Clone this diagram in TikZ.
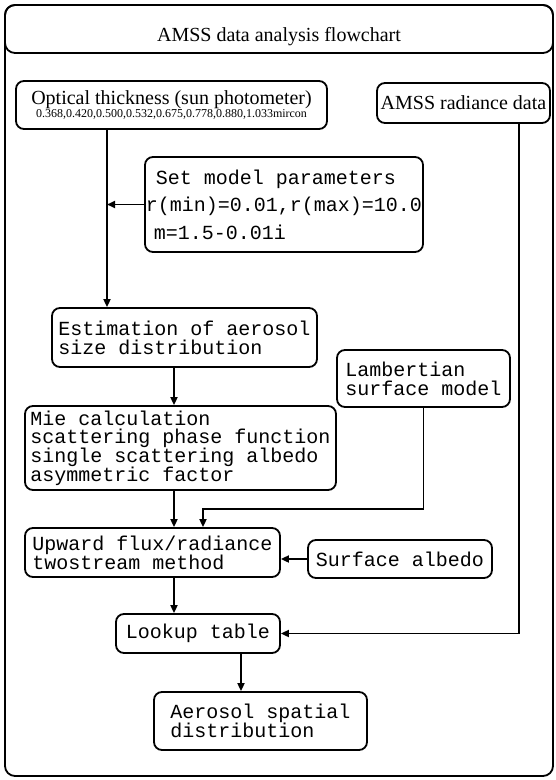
\documentclass[tikz,border=0pt]{standalone}
\usepackage{fontspec}
\setmainfont{Liberation Serif}
\setmonofont{Liberation Mono}
\usetikzlibrary{arrows.meta}

\begin{document}
\begin{tikzpicture}[x=1pt,y=-1pt,
  box/.style={draw,line width=1.8pt,rounded corners=8pt,inner sep=1pt,align=left,
    font=\ttfamily\fontsize{20}{19}\selectfont},
  arr/.style={line width=1.8pt,-{Triangle[length=8pt,width=7pt]}}]
  \useasboundingbox (0,0) rectangle (555,780);
  % frame and title bar
  \draw[line width=1.8pt,rounded corners=10pt] (5,5) rectangle (553,776);
  \draw[line width=1.8pt,rounded corners=10pt] (5,5) rectangle (553,53);
  \node (title) at (279,37) {\fontsize{20}{22}\selectfont AMSS data analysis flowchart};
  % input data
  \node[box,align=center,font=\rmfamily,minimum width=311pt,minimum height=48pt] (optical) at (171.5,105)
    {\fontsize{20}{20}\selectfont Optical thickness (sun photometer)\\
     \fontsize{12}{15.5}\selectfont 0.368,0.420,0.500,0.532,0.675,0.778,0.880,1.033mircon};
  \node[box,font=\rmfamily\fontsize{20}{22}\selectfont,minimum width=173pt,minimum height=40pt] (amss) at (463.5,103)
    {AMSS radiance data};
  \node[box,font=\ttfamily\fontsize{20}{27.5}\selectfont,minimum width=278pt,minimum height=95pt] (setmodel) at (284,204.5)
    {\hspace*{10pt}Set model parameters\\r(min)=0.01,r(max)=10.0\\\hspace*{8pt}m=1.5-0.01i};
  % processing chain
  \node[box,minimum width=265pt,minimum height=59pt] (estim) at (184.5,337.5)
    {Estimation of aerosol\\size distribution};
  \node[box,minimum width=173pt,minimum height=57pt] (lamb) at (423.5,378.5)
    {Lambertian\\surface model};
  \node[box,font=\ttfamily\fontsize{20}{18.7}\selectfont,minimum width=311pt,minimum height=84pt] (mie) at (180.5,448)
    {Mie calculation\\scattering phase function\\single scattering albedo\\asymmetric factor};
  \node[box,minimum width=255pt,minimum height=49pt] (upward) at (152.5,552.5)
    {Upward flux/radiance\\twostream method};
  \node[box,minimum width=184pt,minimum height=38pt] (surf) at (400,559)
    {Surface albedo};
  \node[box,minimum width=164pt,minimum height=39pt] (lookup) at (198,633.5)
    {Lookup table};
  \node[box,minimum width=213pt,minimum height=58pt] (aerosol) at (260.5,721)
    {Aerosol spatial\\distribution};
  % connector columns
  \coordinate (lbus) at (107,0);
  \coordinate (mbus) at (174,0);
  \coordinate (abus) at (241,0);
  \coordinate (rbus) at (519,0);
  \coordinate (ljoin) at (203,509);
  \draw[arr] (optical.south -| lbus) -- (estim.north -| lbus);
  \draw[arr] (setmodel.west) -- (setmodel.west -| lbus);
  \draw[arr] (estim.south -| mbus) -- (mie.north -| mbus);
  \draw[arr] (mie.south -| mbus) -- (upward.north -| mbus);
  \draw[arr] (lamb.south) |- (ljoin) -- (upward.north -| ljoin);
  \draw[arr] (surf.west) -- (surf.west -| upward.east);
  \draw[arr] (upward.south -| mbus) -- (lookup.north -| mbus);
  \draw[arr] (amss.south -| rbus) |- (lookup.east);
  \draw[arr] (lookup.south -| abus) -- (aerosol.north -| abus);
\end{tikzpicture}
\end{document}
